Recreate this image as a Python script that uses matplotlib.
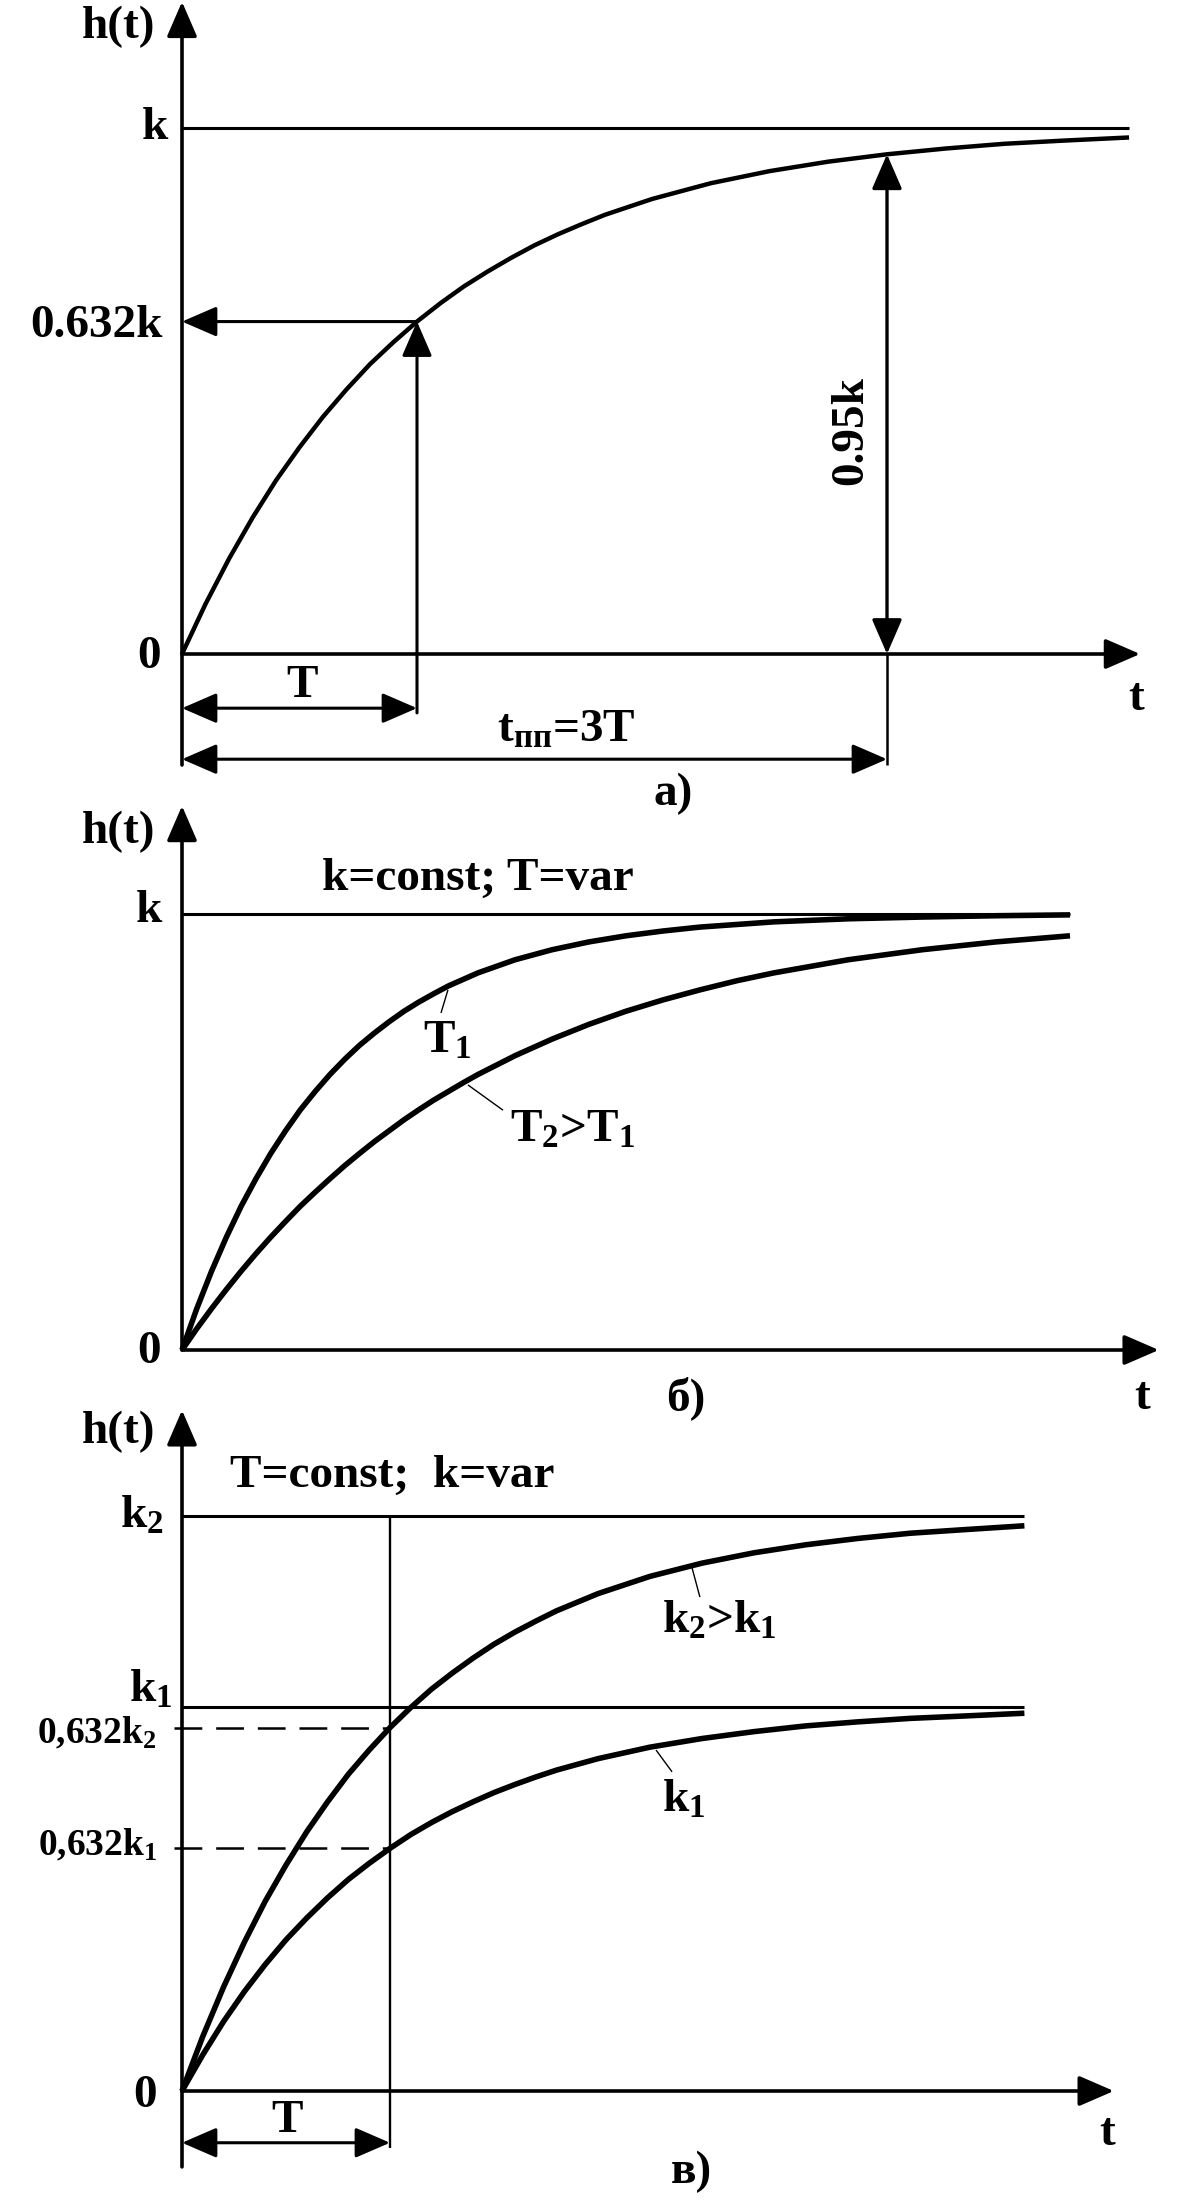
import matplotlib
matplotlib.use('Agg')
import matplotlib.pyplot as plt

plt.rcParams['font.family'] = ['Liberation Serif', 'DejaVu Serif']
plt.rcParams['font.weight'] = 'bold'
plt.rcParams['mathtext.fontset'] = 'custom'
plt.rcParams['mathtext.rm'] = 'Liberation Serif:bold'
plt.rcParams['mathtext.it'] = 'Liberation Serif:bold'
plt.rcParams['mathtext.bf'] = 'Liberation Serif:bold'
plt.rcParams['mathtext.default'] = 'rm'
plt.rcParams['lines.scale_dashes'] = False

# ---- data ----
# panel а: t in units of T, h in units of k
t_a = [0, 0.1, 0.2, 0.3, 0.4, 0.5, 0.6, 0.7, 0.8, 0.9, 1.0, 1.1, 1.2, 1.3, 1.4, 1.5,
       1.6, 1.7, 1.8, 1.9, 2.0, 2.25, 2.5, 2.75, 3.0, 3.25, 3.5, 3.75, 4.03]
h_a = [0, 0.095, 0.181, 0.259, 0.33, 0.393, 0.451, 0.503, 0.551, 0.593, 0.632, 0.667, 0.699, 0.727,
       0.753, 0.777, 0.798, 0.817, 0.835, 0.85, 0.865, 0.895, 0.918, 0.936, 0.95, 0.961, 0.97, 0.976, 0.982]

# panel б: t in units of T1, h in units of k
t_b = [0, 0.1, 0.2, 0.3, 0.4, 0.5, 0.6, 0.7, 0.8, 0.9, 1.0, 1.1, 1.2, 1.3, 1.4, 1.5,
       1.6, 1.7, 1.8, 1.9, 2.0, 2.25, 2.5, 2.75, 3.0, 3.25, 3.5, 3.75, 4.0, 4.5, 5.0, 5.5, 6.0]
h_b_T1 = [0, 0.095, 0.181, 0.259, 0.33, 0.393, 0.451, 0.503, 0.551, 0.593, 0.632, 0.667, 0.699, 0.727,
          0.753, 0.777, 0.798, 0.817, 0.835, 0.85, 0.865, 0.895, 0.918, 0.936, 0.95, 0.961, 0.97, 0.976,
          0.982, 0.989, 0.993, 0.996, 0.998]
h_b_T2 = [0, 0.049, 0.095, 0.139, 0.181, 0.221, 0.259, 0.295, 0.33, 0.362, 0.393, 0.423, 0.451, 0.478,
          0.503, 0.528, 0.551, 0.573, 0.593, 0.613, 0.632, 0.675, 0.713, 0.747, 0.777, 0.803, 0.826, 0.847,
          0.865, 0.895, 0.918, 0.936, 0.95]

# panel в: t in units of T, h in units of k2
t_c = [0, 0.1, 0.2, 0.3, 0.4, 0.5, 0.6, 0.7, 0.8, 0.9, 1.0, 1.1, 1.2, 1.3, 1.4, 1.5,
       1.6, 1.7, 1.8, 1.9, 2.0, 2.25, 2.5, 2.75, 3.0, 3.25, 3.5, 3.75, 4.05]
h_c_k2 = [0, 0.095, 0.181, 0.259, 0.33, 0.393, 0.451, 0.503, 0.551, 0.593, 0.632, 0.667, 0.699, 0.727,
          0.753, 0.777, 0.798, 0.817, 0.835, 0.85, 0.865, 0.895, 0.918, 0.936, 0.95, 0.961, 0.97, 0.976, 0.983]
h_c_k1 = [0, 0.063, 0.121, 0.173, 0.22, 0.263, 0.301, 0.336, 0.368, 0.396, 0.422, 0.446, 0.467, 0.486,
          0.503, 0.519, 0.533, 0.546, 0.558, 0.568, 0.578, 0.598, 0.613, 0.625, 0.635, 0.642, 0.648, 0.652, 0.657]
k1_level = 0.668
k2_level = 1.0

W, H = 1200, 2200
fig = plt.figure(figsize=(W / 100, H / 100), dpi=100)
fig.patch.set_facecolor('white')

FS = 34
FS_SMALL = 27
AX_LW = 2.6
HEAD = '-|>,head_length=0.6,head_width=0.26'
HEAD2 = '<|-|>,head_length=0.6,head_width=0.26'


def panel(top, bot, ox, oy, sx, sy):
    # axes covering a horizontal band; data unit -> pixels via sx, sy
    ax = fig.add_axes([0, 1 - bot / H, 1, (bot - top) / H])
    ax.set_xlim(-ox / sx, (W - ox) / sx)
    ax.set_ylim((oy - bot) / sy, (oy - top) / sy)
    ax.axis('off')
    return ax


def arrow(ax, tail, tip, lw, style=HEAD):
    ax.annotate('', xy=tip, xytext=tail, annotation_clip=False,
                arrowprops=dict(arrowstyle=style, color='black', lw=lw,
                                mutation_scale=36, shrinkA=0, shrinkB=0))


def line(ax, xs, ys, lw, **kw):
    ax.plot(xs, ys, color='black', lw=lw, solid_capstyle='butt',
            solid_joinstyle='round', clip_on=False, **kw)


# ================= panel а =================
ax = panel(0, 790, 182, 654, 235, 526)
arrow(ax, (0, -0.211), (0, 1.24), AX_LW)
arrow(ax, (0, 0), (4.077, 0), AX_LW)
line(ax, [0, 4.03], [1, 1], 2.2)
line(ax, t_a, h_a, 3.2)
arrow(ax, (1, 0.632), (0, 0.632), 2.2)
arrow(ax, (1, -0.112), (1, 0.632), 2.2)
line(ax, [3, 3], [-0.211, 0], 1.8)
arrow(ax, (3, 0), (3, 0.95), 2.4, HEAD2)
arrow(ax, (0, -0.103), (1, -0.103), 2.2, HEAD2)
arrow(ax, (0, -0.200), (3, -0.200), 2.2, HEAD2)

ax.text(-0.268, 1.192, 'h(t)', fontsize=FS, ha='center', va='center')
ax.text(-0.060, 0.979, 'k', fontsize=FS, ha='right', va='baseline')
ax.text(-0.081, 0.603, '0.632k', fontsize=FS, ha='right', va='baseline')
ax.text(-0.090, -0.027, '0', fontsize=FS, ha='right', va='baseline')
ax.text(0.511, -0.082, 'T', fontsize=FS, ha='center', va='baseline')
ax.text(1.634, -0.167, r't$_{пп}$=3T', fontsize=FS, ha='center', va='baseline')
ax.text(4.06, -0.106, 't', fontsize=FS, ha='center', va='baseline')
ax.text(2.09, -0.287, 'а)', fontsize=FS, ha='center', va='baseline')
ax.text(2.847, 0.425, '0.95k', fontsize=FS, ha='center', va='center', rotation=90)

# ================= panel б =================
ax = panel(790, 1380, 182, 1350, 148, 436)
arrow(ax, (0, 0), (0, 1.248), AX_LW)
arrow(ax, (0, 0), (6.60, 0), AX_LW)
line(ax, [0, 6.0], [1, 1], 2.2)
line(ax, t_b, h_b_T1, 4.0)
line(ax, t_b, h_b_T2, 4.0)
line(ax, [1.797, 1.75], [0.826, 0.773], 1.0)
line(ax, [1.932, 2.169], [0.608, 0.550], 1.0)

ax.text(-0.432, 1.188, 'h(t)', fontsize=FS, ha='center', va='center')
ax.text(0.946, 1.055, 'k=const; T=var', fontsize=FS, ha='left', va='baseline')
ax.text(-0.135, 0.982, 'k', fontsize=FS, ha='right', va='baseline')
ax.text(-0.142, -0.030, '0', fontsize=FS, ha='right', va='baseline')
ax.text(1.628, 0.683, r'T$_1$', fontsize=FS, ha='left', va='baseline')
ax.text(2.216, 0.477, r'T$_2$>T$_1$', fontsize=FS, ha='left', va='baseline')
ax.text(3.405, -0.138, 'б)', fontsize=FS, ha='center', va='baseline')
ax.text(6.49, -0.135, 't', fontsize=FS, ha='center', va='baseline')

# ================= panel в =================
ax = panel(1380, 2200, 182, 2091, 208, 575)
arrow(ax, (0, -0.132), (0, 1.184), AX_LW)
arrow(ax, (0, 0), (4.48, 0), AX_LW)
line(ax, [0, 4.05], [k2_level, k2_level], 2.2)
line(ax, [0, 4.05], [k1_level, k1_level], 2.2)
line(ax, [1, 1], [-0.099, k2_level], 1.7)
line(ax, [-0.04, 1], [0.632 * k2_level] * 2, 1.8, linestyle=(0, (20, 10)))
line(ax, [-0.04, 1], [0.632 * k1_level] * 2, 1.8, linestyle=(0, (20, 10)))
line(ax, t_c, h_c_k2, 4.0)
line(ax, t_c, h_c_k1, 4.0)
line(ax, [2.452, 2.490], [0.910, 0.859], 1.0)
line(ax, [2.279, 2.356], [0.593, 0.555], 1.0)
arrow(ax, (0, -0.090), (1, -0.090), 2.2, HEAD2)

ax.text(-0.303, 1.146, 'h(t)', fontsize=FS, ha='center', va='center')
ax.text(0.23, 1.050, 'T=const;  k=var', fontsize=FS, ha='left', va='baseline')
ax.text(-0.087, 0.979, r'k$_2$', fontsize=FS, ha='right', va='baseline')
ax.text(-0.048, 0.677, r'k$_1$', fontsize=FS, ha='right', va='baseline')
ax.text(-0.12, 0.605, r'0,632k$_2$', fontsize=FS_SMALL, ha='right', va='baseline')
ax.text(-0.12, 0.410, r'0,632k$_1$', fontsize=FS_SMALL, ha='right', va='baseline')
ax.text(2.308, 0.797, r'k$_2$>k$_1$', fontsize=FS, ha='left', va='baseline')
ax.text(2.308, 0.485, r'k$_1$', fontsize=FS, ha='left', va='baseline')
ax.text(-0.12, -0.028, '0', fontsize=FS, ha='right', va='baseline')
ax.text(0.505, -0.071, 'T', fontsize=FS, ha='center', va='baseline')
ax.text(4.45, -0.094, 't', fontsize=FS, ha='center', va='baseline')
ax.text(2.45, -0.16, 'в)', fontsize=FS, ha='center', va='baseline')

fig.savefig('out.png', dpi=100, facecolor='white')
